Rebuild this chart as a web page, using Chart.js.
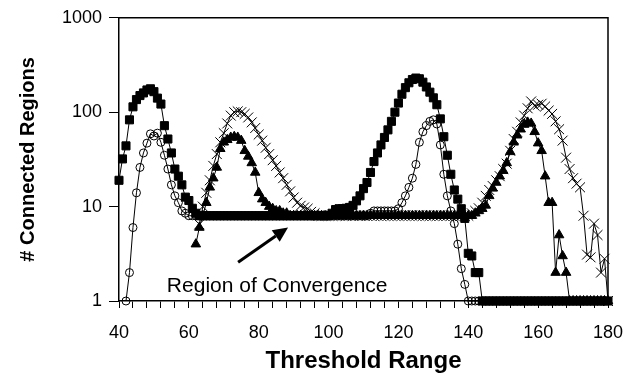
<!DOCTYPE html>
<html>
<head>
<meta charset="utf-8">
<script src="https://cdn.jsdelivr.net/npm/chart.js@4"></script>
<style>
  html, body { margin: 0; padding: 0; background: #fff; }
</style>
</head>
<body>
<canvas id="chart" width="640" height="382"></canvas>
<script>
// threshold values (x) and the four series, one value per threshold
const thresholds = [
  40, 41, 42, 43, 44, 45, 46, 47, 48, 49,
  50, 51, 52, 53, 54, 55, 56, 57, 58, 59,
  60, 61, 62, 63, 64, 65, 66, 67, 68, 69,
  70, 71, 72, 73, 74, 75, 76, 77, 78, 79,
  80, 81, 82, 83, 84, 85, 86, 87, 88, 89,
  90, 91, 92, 93, 94, 95, 96, 97, 98, 99,
  100, 101, 102, 103, 104, 105, 106, 107, 108, 109,
  110, 111, 112, 113, 114, 115, 116, 117, 118, 119,
  120, 121, 122, 123, 124, 125, 126, 127, 128, 129,
  130, 131, 132, 133, 134, 135, 136, 137, 138, 139,
  140, 141, 142, 143, 144, 145, 146, 147, 148, 149,
  150, 151, 152, 153, 154, 155, 156, 157, 158, 159,
  160, 161, 162, 163, 164, 165, 166, 167, 168, 169,
  170, 171, 172, 173, 174, 175, 176, 177, 178, 179,
  180, 181, 182
];

const squares = [
  19, 32, 44, 83, 114, 136, 150, 160, 172, 177,
  165, 141, 122, 72, 52, 37, 25, 21, 17, 12.6,
  11.6, 9.6, 8.5, 8, 8, 8, 8, 8, 8, 8,
  8, 8, 8, 8, 8, 8, 8, 8, 8, 8,
  8, 8, 8, 8, 8, 8, 8, 8, 8, 8,
  8, 8, 8, 8, 8, 8, 8, 8, 8, 8,
  8, 8.5, 9.3, 9.5, 9.5, 9.6, 9.8, 10.3, 11.5, 13,
  15.5, 18, 23, 30, 37, 45, 54, 65, 80, 100,
  125, 155, 182, 205, 222, 230, 226, 208, 185, 163,
  142, 120, 85, 55, 35, 22, 15, 12, 9.5, 7.5,
  3.2, 3, 2, 2, 1, 1, 1, 1, 1, 1,
  1, 1, 1, 1, 1, 1, 1, 1, 1, 1,
  1, 1, 1, 1, 1, 1, 1, 1, 1, 1,
  1, 1, 1, 1, 1, 1, 1, 1, 1, 1,
  1, null, null
];

const circles = [
  null, null, 1, 2, 6, 14, 26, 37, 47, 59,
  56, 60, 48, 35, 25, 17, 13, 11, 9, 8.5,
  8, 8, 8, 8, 8, 8, 8, 8, 8, 8,
  8, 8, 8, 8, 8, 8, 8, 8, 8, 8,
  8, 8, 8, 8, 8, 8, 8, 8, 8, 8,
  8, 8, 8, 8, 8, 8, 8, 8, 8, 8,
  8, 8, 8, 8, 8, 8, 8, 8, 8, 8,
  8, 8, 8.5, 9, 9, 9, 9, 9, 9, 9,
  9.5, 11, 13, 16, 20, 28, 48, 62, 72, 80,
  83, 75, 45, 22, 13, 9, 6.6, 4, 2.2, 1.5,
  1, 1, 1, 1, 1, null, null, null, null, null,
  null, null, null, null, null, null, null, null, null, null,
  null, null, null, null, null, null, null, null, null, null,
  null, null, null, null, null, null, null, null, null, null,
  null, null, null
];

const triangles = [
  null, null, null, null, null, null, null, null, null, null,
  null, null, null, null, null, null, null, null, null, null,
  null, null, 4, 6, 8, 11, 16, 20, 26, 41,
  48, 51, 54, 55, 54, 50, 39, 34, 29, 23,
  14, 12, 11, 10, 9.5, 9, 9, 8.5, 8.5, 8,
  8, 8, 8, 8, 8, 8, 8, 8, 8, 8,
  8, 8, 8, 8, 8, 8, 8, 8, 8, 8,
  8, 8, 8, 8, 8, 8, 8, 8, 8, 8,
  8, 8, 8, 8, 8, 8, 8, 8, 8, 8,
  8, 8, 8, 8, 8, 8, 8, 8, 8, 8,
  8, 8, 8.5, 9, 9.5, 10.3, 13, 15.6, 18, 21,
  24, 29, 38, 48, 57, 66, 74, 78, 76, 62,
  47, 39, 21, 11, 11, 2, 5, 3, 2, 1,
  1, 1, 1, 1, 1, 1, 1, 1, 1, 1,
  1, null, null
];

const crosses = [
  null, null, null, null, null, null, null, null, null, null,
  null, null, null, null, null, null, null, null, null, null,
  null, null, null, 6.5, 10, 14, 19, 27, 36, 48,
  60, 76, 92, 100, 102, 100, 96, 88, 78, 68,
  58, 50, 42, 36, 31, 27, 23, 20, 17, 14.5,
  12.5, 11, 10.2, 9.8, 9.5, 8.8, 8.5, 8, 8, 8,
  8, 8, 8, 8, 8, 8, 8, 8, 8, 8,
  8, 8, 8, 8, 8, 8, 8, 8, 8, 8,
  8, 8, 8, 8, 8, 8, 8, 8, 8, 8,
  8, 8, 8, 8, 8, 8, 8, 8, 8, 8,
  8, 8.5, 9, 9.6, 11, 13, 15, 16.5, 19, 21,
  25, 28.5, 39, 52, 62, 78, 92, 110, 130, 117,
  120, 123, 115, 104, 96, 80, 66, 50, 33, 25,
  20, 17.5, 16, 8, 3.1, 2.9, 6.6, 5, 2, 2.8,
  1, 3.9, 1
];

const yTicks = [1, 10, 100, 1000];
const xLabelEvery = 20;

// annotation text and arrow, in data units
const noteText = 'Region of Convergence';
const notePos = { x: 53.7, y: 1.245 };
const arrowFrom = { x: 74.1, y: 2.58 };
const arrowTo = { x: 88.4, y: 6.0 };

const FONT = "'Liberation Sans', Arial, sans-serif";

function toPoints(values) {
  return thresholds.map((t, i) => ({ x: t, y: values[i] }));
}

function series(label, values, marker) {
  return Object.assign({
    label: label,
    data: toPoints(values),
    borderColor: '#000',
    borderWidth: 1,
    tension: 0,
    pointBorderColor: '#000',
    pointBorderWidth: 1,
    clip: false
  }, marker);
}

// box round the plot area (top and right edges)
const frame = {
  id: 'frame',
  beforeDatasetsDraw(chart) {
    const { ctx, chartArea: a } = chart;
    ctx.save();
    ctx.strokeStyle = '#000';
    ctx.lineWidth = 1.5;
    ctx.beginPath();
    ctx.moveTo(a.left, a.top);
    ctx.lineTo(a.right, a.top);
    ctx.lineTo(a.right, a.bottom);
    ctx.stroke();
    ctx.restore();
  }
};

const note = {
  id: 'note',
  afterDatasetsDraw(chart) {
    const { ctx, scales: { x, y } } = chart;
    ctx.save();
    ctx.fillStyle = '#000';
    ctx.font = '21px ' + FONT;
    ctx.textBaseline = 'alphabetic';
    ctx.fillText(noteText, x.getPixelForValue(notePos.x), y.getPixelForValue(notePos.y));

    const x0 = x.getPixelForValue(arrowFrom.x), y0 = y.getPixelForValue(arrowFrom.y);
    const x1 = x.getPixelForValue(arrowTo.x), y1 = y.getPixelForValue(arrowTo.y);
    const ang = Math.atan2(y1 - y0, x1 - x0);
    const headLen = 15, headHalf = 7;
    const bx = x1 - headLen * Math.cos(ang), by = y1 - headLen * Math.sin(ang);
    ctx.strokeStyle = '#000';
    ctx.lineWidth = 3;
    ctx.beginPath();
    ctx.moveTo(x0, y0);
    ctx.lineTo(bx, by);
    ctx.stroke();
    ctx.beginPath();
    ctx.moveTo(x1, y1);
    ctx.lineTo(bx + headHalf * Math.sin(ang), by - headHalf * Math.cos(ang));
    ctx.lineTo(bx - headHalf * Math.sin(ang), by + headHalf * Math.cos(ang));
    ctx.closePath();
    ctx.fill();
    ctx.restore();
  }
};

new Chart(document.getElementById('chart'), {
  type: 'line',
  data: {
    datasets: [
      series('circles', circles, { pointStyle: 'circle', pointRadius: 4, pointBackgroundColor: 'rgba(0,0,0,0)' }),
      series('crosses', crosses, { pointStyle: 'crossRot', pointRadius: 7, pointBackgroundColor: '#000' }),
      series('triangles', triangles, { pointStyle: 'triangle', pointRadius: 5.5, pointBackgroundColor: '#000' }),
      series('squares', squares, { pointStyle: 'rect', pointRadius: 5.7, pointBackgroundColor: '#000' })
    ]
  },
  options: {
    responsive: false,
    animation: false,
    events: [],
    layout: { padding: { left: 0, top: 17, right: 32, bottom: 0 } },
    plugins: { legend: { display: false }, tooltip: { enabled: false } },
    scales: {
      x: {
        type: 'linear',
        min: 40,
        max: 180,
        afterFit: s => { s.height = 81; },
        ticks: {
          stepSize: 4,
          autoSkip: false,
          maxRotation: 0,
          padding: 14,
          color: '#000',
          font: { family: FONT, size: 18 },
          callback: v => (v % xLabelEvery === 0 ? String(v) : '')
        },
        grid: { drawOnChartArea: false, drawTicks: true, tickLength: 7, color: '#000', lineWidth: 1 },
        border: { display: true, color: '#000', width: 1.5 },
        title: {
          display: true,
          text: 'Threshold Range',
          color: '#000',
          font: { family: FONT, size: 24, weight: 'bold' },
          padding: { top: 0, bottom: 6 }
        }
      },
      y: {
        type: 'logarithmic',
        min: 1,
        max: 1000,
        afterFit: s => { s.width = 119; },
        afterBuildTicks: s => { s.ticks = yTicks.map(v => ({ value: v })); },
        ticks: {
          padding: 7,
          color: '#000',
          font: { family: FONT, size: 18 },
          callback: v => String(v)
        },
        grid: { drawOnChartArea: false, drawTicks: true, tickLength: 10, color: '#000', lineWidth: 1 },
        border: { display: true, color: '#000', width: 1.5 },
        title: {
          display: true,
          text: '# Connected Regions',
          color: '#000',
          font: { family: FONT, size: 20, weight: 'bold' },
          padding: { top: 16, bottom: 0 }
        }
      }
    }
  },
  plugins: [frame, note]
});
</script>
</body>
</html>
